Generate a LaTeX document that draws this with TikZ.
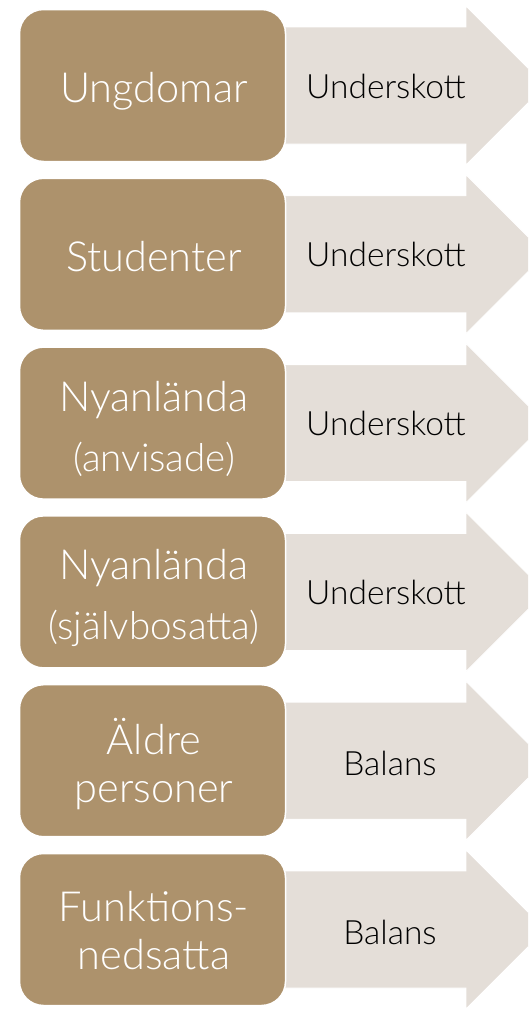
\documentclass[tikz,border=0pt]{standalone}
\usepackage{fontspec}
\setmainfont{Liberation Sans}
\IfFontExistsTF{Lato Light}
  {\newfontfamily\groupfont{Lato Light}}
  {\newfontfamily\groupfont{Liberation Sans}}

\definecolor{groupbrown}{RGB}{173,146,108}
\definecolor{arrowgrey}{RGB}{228,222,216}

\tikzset{
  groupbox/.style={rectangle, rounded corners=24pt, fill=groupbrown, draw=white,
    line width=1.5pt, minimum width=266pt, minimum height=152pt},
  grouptext/.style={text=white, align=center, font=\groupfont\fontsize{41.5}{48}\selectfont},
  result/.style={text=black, font=\groupfont\fontsize{33.5}{40}\selectfont},
  resultarrow/.style={fill=arrowgrey, draw=white, line width=0.8pt}
}

% Arrow behind each group box, in row coordinates
\def\resultarrow{\draw[resultarrow] (270,17) -- (466,17) -- (466,-4) -- (545.5,75.5) -- (466,155) -- (466,134) -- (270,134) -- cycle;}
\def\small#1{{\fontsize{38.5}{40}\selectfont #1}}

\begin{document}
\begin{tikzpicture}[x=1pt, y=-1pt]
\useasboundingbox (0,0) rectangle (528,1009);
\clip (0,0) rectangle (528,1009);

% Row 1: ungdomar
\begin{scope}[shift={(0,10)}]
\resultarrow
\node[groupbox] (ungdomar) at (152.5,75.5) {};
\node[grouptext] (ungdomarText) at (154,81) {Ungdomar};
\node[result] (ungdomarRes) at (386,76) {Underskott};
\end{scope}

% Row 2: studenter
\begin{scope}[shift={(0,178.8)}]
\resultarrow
\node[groupbox] (studenter) at (152.5,75.5) {};
\node[grouptext] (studenterText) at (154,78) {Studenter};
\node[result] (studenterRes) at (386,76) {Underskott};
\end{scope}

% Row 3: nyanlanda, anvisade
\begin{scope}[shift={(0,347.6)}]
\resultarrow
\node[groupbox] (anvisade) at (152.5,75.5) {};
\node[grouptext] (anvisadeText) at (154,81.5) {Nyanlända\\[12pt]\small{(anvisade)}};
\node[result] (anvisadeRes) at (386,76) {Underskott};
\end{scope}

% Row 4: nyanlanda, sjalvbosatta
\begin{scope}[shift={(0,516.4)}]
\resultarrow
\node[groupbox] (sjalvbosatta) at (152.5,75.5) {};
\node[grouptext] (sjalvbosattaText) at (154,82) {Nyanlända\\[12pt]\small{(självbosatta)}};
\node[result] (sjalvbosattaRes) at (386,76) {Underskott};
\end{scope}

% Row 5: aldre
\begin{scope}[shift={(0,685.2)}]
\resultarrow
\node[groupbox] (aldre) at (152.5,75.5) {};
\node[grouptext] (aldreText) at (154,79) {Äldre\\personer};
\node[result] (aldreRes) at (390,78) {Balans};
\end{scope}

% Row 6: funktionsnedsatta
\begin{scope}[shift={(0,854)}]
\resultarrow
\node[groupbox] (funktion) at (152.5,75.5) {};
\node[grouptext] (funktionText) at (154,77) {Funktions-\\nedsatta};
\node[result] (funktionRes) at (390,78) {Balans};
\end{scope}
\end{tikzpicture}
\end{document}
